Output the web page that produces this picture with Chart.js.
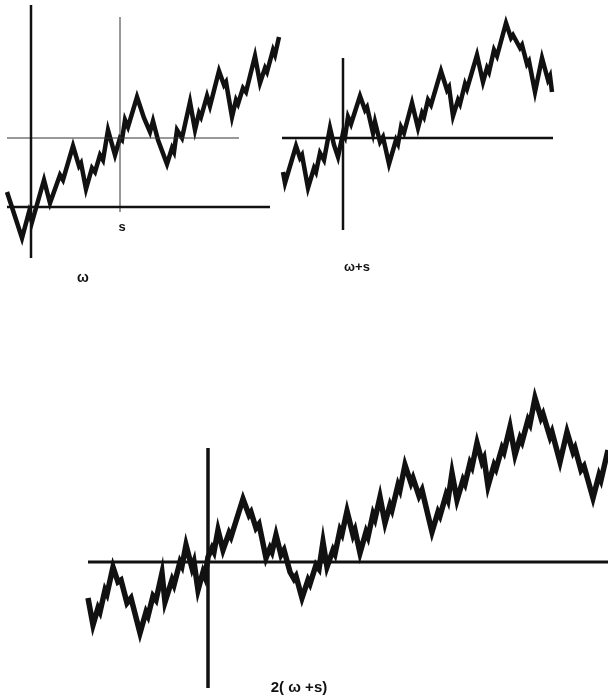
<!DOCTYPE html>
<html>
<head>
<meta charset="utf-8">
<script src="https://cdn.jsdelivr.net/npm/chart.js@4.4.1/dist/chart.umd.min.js"></script>
<style>
  body { margin: 0; background: #fff; }
  #page { position: relative; width: 608px; height: 700px; overflow: hidden; }
  canvas { position: absolute; }
</style>
</head>
<body>
<div id="page">
  <canvas id="omegaChart" width="290" height="300" style="left:0;top:0"></canvas>
  <canvas id="shiftChart" width="280" height="300" style="left:280px;top:0"></canvas>
  <canvas id="scaledChart" width="528" height="320" style="left:80px;top:380px"></canvas>
</div>
<script>
// path values (time t, value w), origin at each panel's axes
var omegaT = [-24,-9,-2,1,13,19,29,32,42,48,50,55,61,64,69,72,77,84,89,91,94,97,106,113,119,122,127,136,141,143,146,151,159,164,168,170,176,179,188,193,195,201,205,207,212,215,224,229,234,236,242,244,248];
var omegaW = [15,-31,-5,-15,27,4,32,27,61,41,44,18,39,35,52,47,77,52,69,67,87,80,110,89,75,86,67,43,59,55,77,69,105,77,94,90,111,101,136,122,125,90,107,103,119,115,151,124,139,135,157,152,170];

var shiftT = [-60,-58,-47,-43,-41,-35,-29,-27,-23,-19,-13,-9,-5,0,2,5,8,17,22,24,30,32,37,40,46,53,55,58,61,69,75,79,81,85,88,98,104,106,110,115,117,122,124,134,140,144,146,151,154,163,168,170,177,179,184,186,192,199,205,207,209];
var shiftW = [-34,-45,-8,-20,-17,-50,-30,-34,-15,-22,10,-7,-19,5,1,21,14,42,28,31,5,16,-4,1,-26,-2,-6,11,5,35,10,25,21,38,33,67,48,51,22,38,34,54,49,83,56,70,66,88,82,115,100,103,90,93,74,77,46,80,58,62,46];

var scaledT = [-120,-115,-110,-108,-103,-101,-95,-90,-87,-81,-77,-68,-62,-60,-55,-52,-46,-43,-36,-34,-28,-26,-22,-16,-14,-10,-5,-3,0,4,6,10,15,21,23,35,41,43,48,51,58,62,64,68,73,76,82,86,88,94,100,102,108,111,115,119,125,127,132,134,139,145,147,152,158,160,165,167,172,177,182,184,190,192,197,203,205,211,214,224,230,232,238,240,244,249,255,257,262,264,269,274,276,280,286,288,294,296,302,307,312,314,320,322,327,333,335,342,344,352,359,365,367,373,376,385,391,393,400];
var scaledW = [-36,-63,-46,-50,-28,-32,-5,-20,-18,-41,-36,-71,-50,-54,-34,-38,-11,-40,-18,-23,0,-4,17,-6,0,-28,-10,-15,5,14,10,32,12,29,25,63,47,50,34,38,4,14,10,27,7,12,-10,-17,-14,-36,-18,-22,-3,-7,20,-5,12,8,32,28,51,27,32,9,30,25,48,43,65,39,57,52,77,72,97,79,84,66,72,30,50,46,67,62,89,62,82,78,99,95,119,100,104,76,97,93,114,110,135,107,124,120,142,138,164,144,148,125,130,100,130,110,114,92,96,64,87,82,112];

// axis extents in the same units
var omegaAxes = { tMin: -24, tMax: 239, wMin: -51, wMax: 202, s: 89, ws: 69, sLineMax: 208, sVMin: -5, sVMax: 190 };
var shiftAxes = { tMin: -61, tMax: 210, wMin: -92, wMax: 80 };
var scaledAxes = { tMin: -120, tMax: 400, wMin: -126, wMax: 114 };

function toPoints(ts, ws) {
  return ts.map(function (t, i) { return { x: t, y: ws[i] }; });
}

function seg(x1, y1, x2, y2, width, color) {
  return {
    data: [{ x: x1, y: y1 }, { x: x2, y: y2 }],
    showLine: true, pointRadius: 0, borderWidth: width,
    borderColor: color, borderCapStyle: 'butt'
  };
}

function curve(ts, ws, width) {
  return {
    data: toPoints(ts, ws),
    showLine: true, pointRadius: 0, borderWidth: width,
    borderColor: '#111', borderJoinStyle: 'miter', tension: 0
  };
}

// draws text labels at data positions
var labelPlugin = {
  id: 'panelLabels',
  afterDatasetsDraw: function (chart, args, opts) {
    var ctx = chart.ctx;
    (opts.items || []).forEach(function (item) {
      ctx.save();
      ctx.font = item.font;
      ctx.fillStyle = '#111';
      ctx.textAlign = 'center';
      ctx.textBaseline = 'middle';
      ctx.fillText(item.text, chart.scales.x.getPixelForValue(item.x), chart.scales.y.getPixelForValue(item.y));
      ctx.restore();
    });
  }
};

function makeChart(id, datasets, range, labels) {
  return new Chart(document.getElementById(id), {
    type: 'scatter',
    data: { datasets: datasets },
    options: {
      responsive: false,
      animation: false,
      layout: { padding: 0 },
      elements: { line: { borderJoinStyle: 'miter' } },
      scales: {
        x: { type: 'linear', display: false, min: range[0], max: range[1] },
        y: { type: 'linear', display: false, min: range[2], max: range[3] }
      },
      plugins: {
        legend: { display: false },
        tooltip: { enabled: false },
        panelLabels: { items: labels }
      }
    },
    plugins: [labelPlugin]
  });
}

document.addEventListener('DOMContentLoaded', function () {
  var a = omegaAxes;
  makeChart('omegaChart', [
    seg(a.tMin, 0, a.tMax, 0, 2.5, '#111'),
    seg(0, a.wMin, 0, a.wMax, 2.5, '#111'),
    seg(a.tMin, a.ws, a.sLineMax, a.ws, 1, '#333'),
    seg(a.s, a.sVMin, a.s, a.sVMax, 1, '#333'),
    curve(omegaT, omegaW, 4.5)
  ], [-31, 259, -93, 207], [
    { text: 's', x: 91, y: -20, font: 'bold 13px "Liberation Sans", Arial, sans-serif' },
    { text: 'ω', x: 52, y: -71, font: 'bold 14px "Liberation Sans", Arial, sans-serif' }
  ]);

  var b = shiftAxes;
  makeChart('shiftChart', [
    seg(b.tMin, 0, b.tMax, 0, 2.5, '#111'),
    seg(0, b.wMin, 0, b.wMax, 2.5, '#111'),
    curve(shiftT, shiftW, 4.5)
  ], [-63, 217, -162, 138], [
    { text: 'ω+s', x: 14, y: -129, font: 'bold 13px "Liberation Sans", Arial, sans-serif' }
  ]);

  var c = scaledAxes;
  makeChart('scaledChart', [
    seg(c.tMin, 0, c.tMax, 0, 3, '#111'),
    seg(0, c.wMin, 0, c.wMax, 3.5, '#111'),
    curve(scaledT, scaledW, 5.5)
  ], [-128, 400, -138, 182], [
    { text: '2( ω +s)', x: 91, y: -126, font: 'bold 15px "Liberation Sans", Arial, sans-serif' }
  ]);
});
</script>
</body>
</html>
